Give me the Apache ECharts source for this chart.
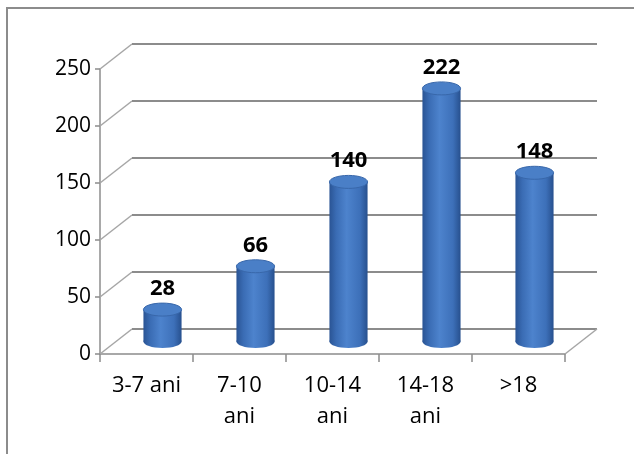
<!DOCTYPE html>
<html>
<head>
<meta charset="utf-8">
<script src="https://cdn.jsdelivr.net/npm/echarts@6/dist/echarts.min.js"></script>
<style>
  html, body { margin: 0; padding: 0; background: #ffffff; }
  #chart { width: 634px; height: 454px; }
</style>
</head>
<body>
<div id="chart"></div>
<script>
// Age groups and counts
var categories = ['3-7 ani', '7-10\nani', '10-14\nani', '14-18\nani', '>18'];
var values = [28, 66, 140, 222, 148];
var yTicks = [0, 50, 100, 150, 200, 250];

// Depth of the pseudo-3D box (pixels)
var DX = 32, DY = -25;
var FONT = '"Open Sans", "Noto Sans", sans-serif';

var chart = echarts.init(document.getElementById('chart'), null, { renderer: 'canvas' });

// Back wall gridlines, side diagonals and floor
function renderWall(params, api) {
  var v = api.value(0);
  var p = api.coord([0, v]);
  var bw = api.size([1, 0])[0];
  var left = p[0] - bw / 2;
  var right = left + bw * categories.length;
  var y = p[1];
  var children = [
    { type: 'line', shape: { x1: left, y1: y, x2: left + DX, y2: y + DY },
      style: { stroke: '#a6a6a6', lineWidth: 1.5 } },
    { type: 'line', shape: { x1: left + DX, y1: y + DY, x2: right + DX, y2: y + DY },
      style: { stroke: '#8c8c8c', lineWidth: 2 } }
  ];
  if (v === 0) {
    children.push({ type: 'line', shape: { x1: right + DX, y1: y + DY, x2: right, y2: y },
      style: { stroke: '#a6a6a6', lineWidth: 1.5 } });
  }
  return { type: 'group', children: children };
}

// Cylinder for each category
function renderCylinder(params, api) {
  var i = api.value(0), v = api.value(1);
  var top = api.coord([i, v]);
  var base = api.coord([i, 0]);
  var bw = api.size([1, 0])[0];
  var w = bw * 0.41;
  var rx = w / 2, ry = 6.5;
  var cx = top[0] + DX / 2;
  var yt = top[1] + DY / 2;
  var yb = base[1] + DY / 2;
  var grad = new echarts.graphic.LinearGradient(0, 0, 1, 0, [
    { offset: 0, color: '#2a5494' },
    { offset: 0.18, color: '#3a6cb4' },
    { offset: 0.45, color: '#4d83cd' },
    { offset: 0.8, color: '#3d70b9' },
    { offset: 1, color: '#27508e' }
  ]);
  return {
    type: 'group',
    children: [
      { type: 'ellipse', shape: { cx: cx, cy: yb, rx: rx, ry: ry }, style: { fill: grad } },
      { type: 'rect', shape: { x: cx - rx, y: yt, width: w, height: yb - yt }, style: { fill: grad } },
      { type: 'ellipse', shape: { cx: cx, cy: yt, rx: rx, ry: ry },
        style: { fill: '#4a7fc7', stroke: '#3867aa', lineWidth: 1 } },
      { type: 'text', x: cx, y: yt - 21,
        style: { text: String(v), fill: '#000000', font: 'bold 22px ' + FONT,
          textAlign: 'center', textVerticalAlign: 'middle' } }
    ]
  };
}

var option = {
  animation: false,
  backgroundColor: '#ffffff',
  graphic: [
    { type: 'rect', shape: { x: 7, y: 8, width: 660, height: 480 },
      style: { fill: 'none', stroke: '#8c8c8c', lineWidth: 2 }, silent: true, z: -10 }
  ],
  grid: { left: 100, top: 69, width: 465, height: 285 },
  xAxis: {
    type: 'category',
    data: categories,
    boundaryGap: true,
    axisLine: { lineStyle: { color: '#8c8c8c', width: 1.5 } },
    axisTick: { show: true, length: 8, lineStyle: { color: '#8c8c8c', width: 1.5 } },
    axisLabel: { color: '#000000', fontFamily: FONT, fontSize: 22, lineHeight: 31,
      margin: 16, interval: 0, verticalAlign: 'top' },
    splitLine: { show: false }
  },
  yAxis: {
    type: 'value',
    min: 0, max: 250, interval: 50,
    axisLine: { show: true, lineStyle: { color: '#8c8c8c', width: 1.5 } },
    axisTick: { show: true, length: 5, lineStyle: { color: '#8c8c8c', width: 1.5 } },
    axisLabel: { color: '#000000', fontFamily: FONT, fontSize: 21, margin: 9 },
    splitLine: { show: false }
  },
  series: [
    { type: 'custom', renderItem: renderWall, data: yTicks.map(function (t) { return [t]; }),
      encode: { y: 0 }, z: 1, silent: true },
    { type: 'custom', renderItem: renderCylinder,
      data: values.map(function (v, i) { return [i, v]; }),
      encode: { x: 0, y: 1 }, z: 5, silent: true }
  ]
};
chart.setOption(option);
</script>
</body>
</html>
